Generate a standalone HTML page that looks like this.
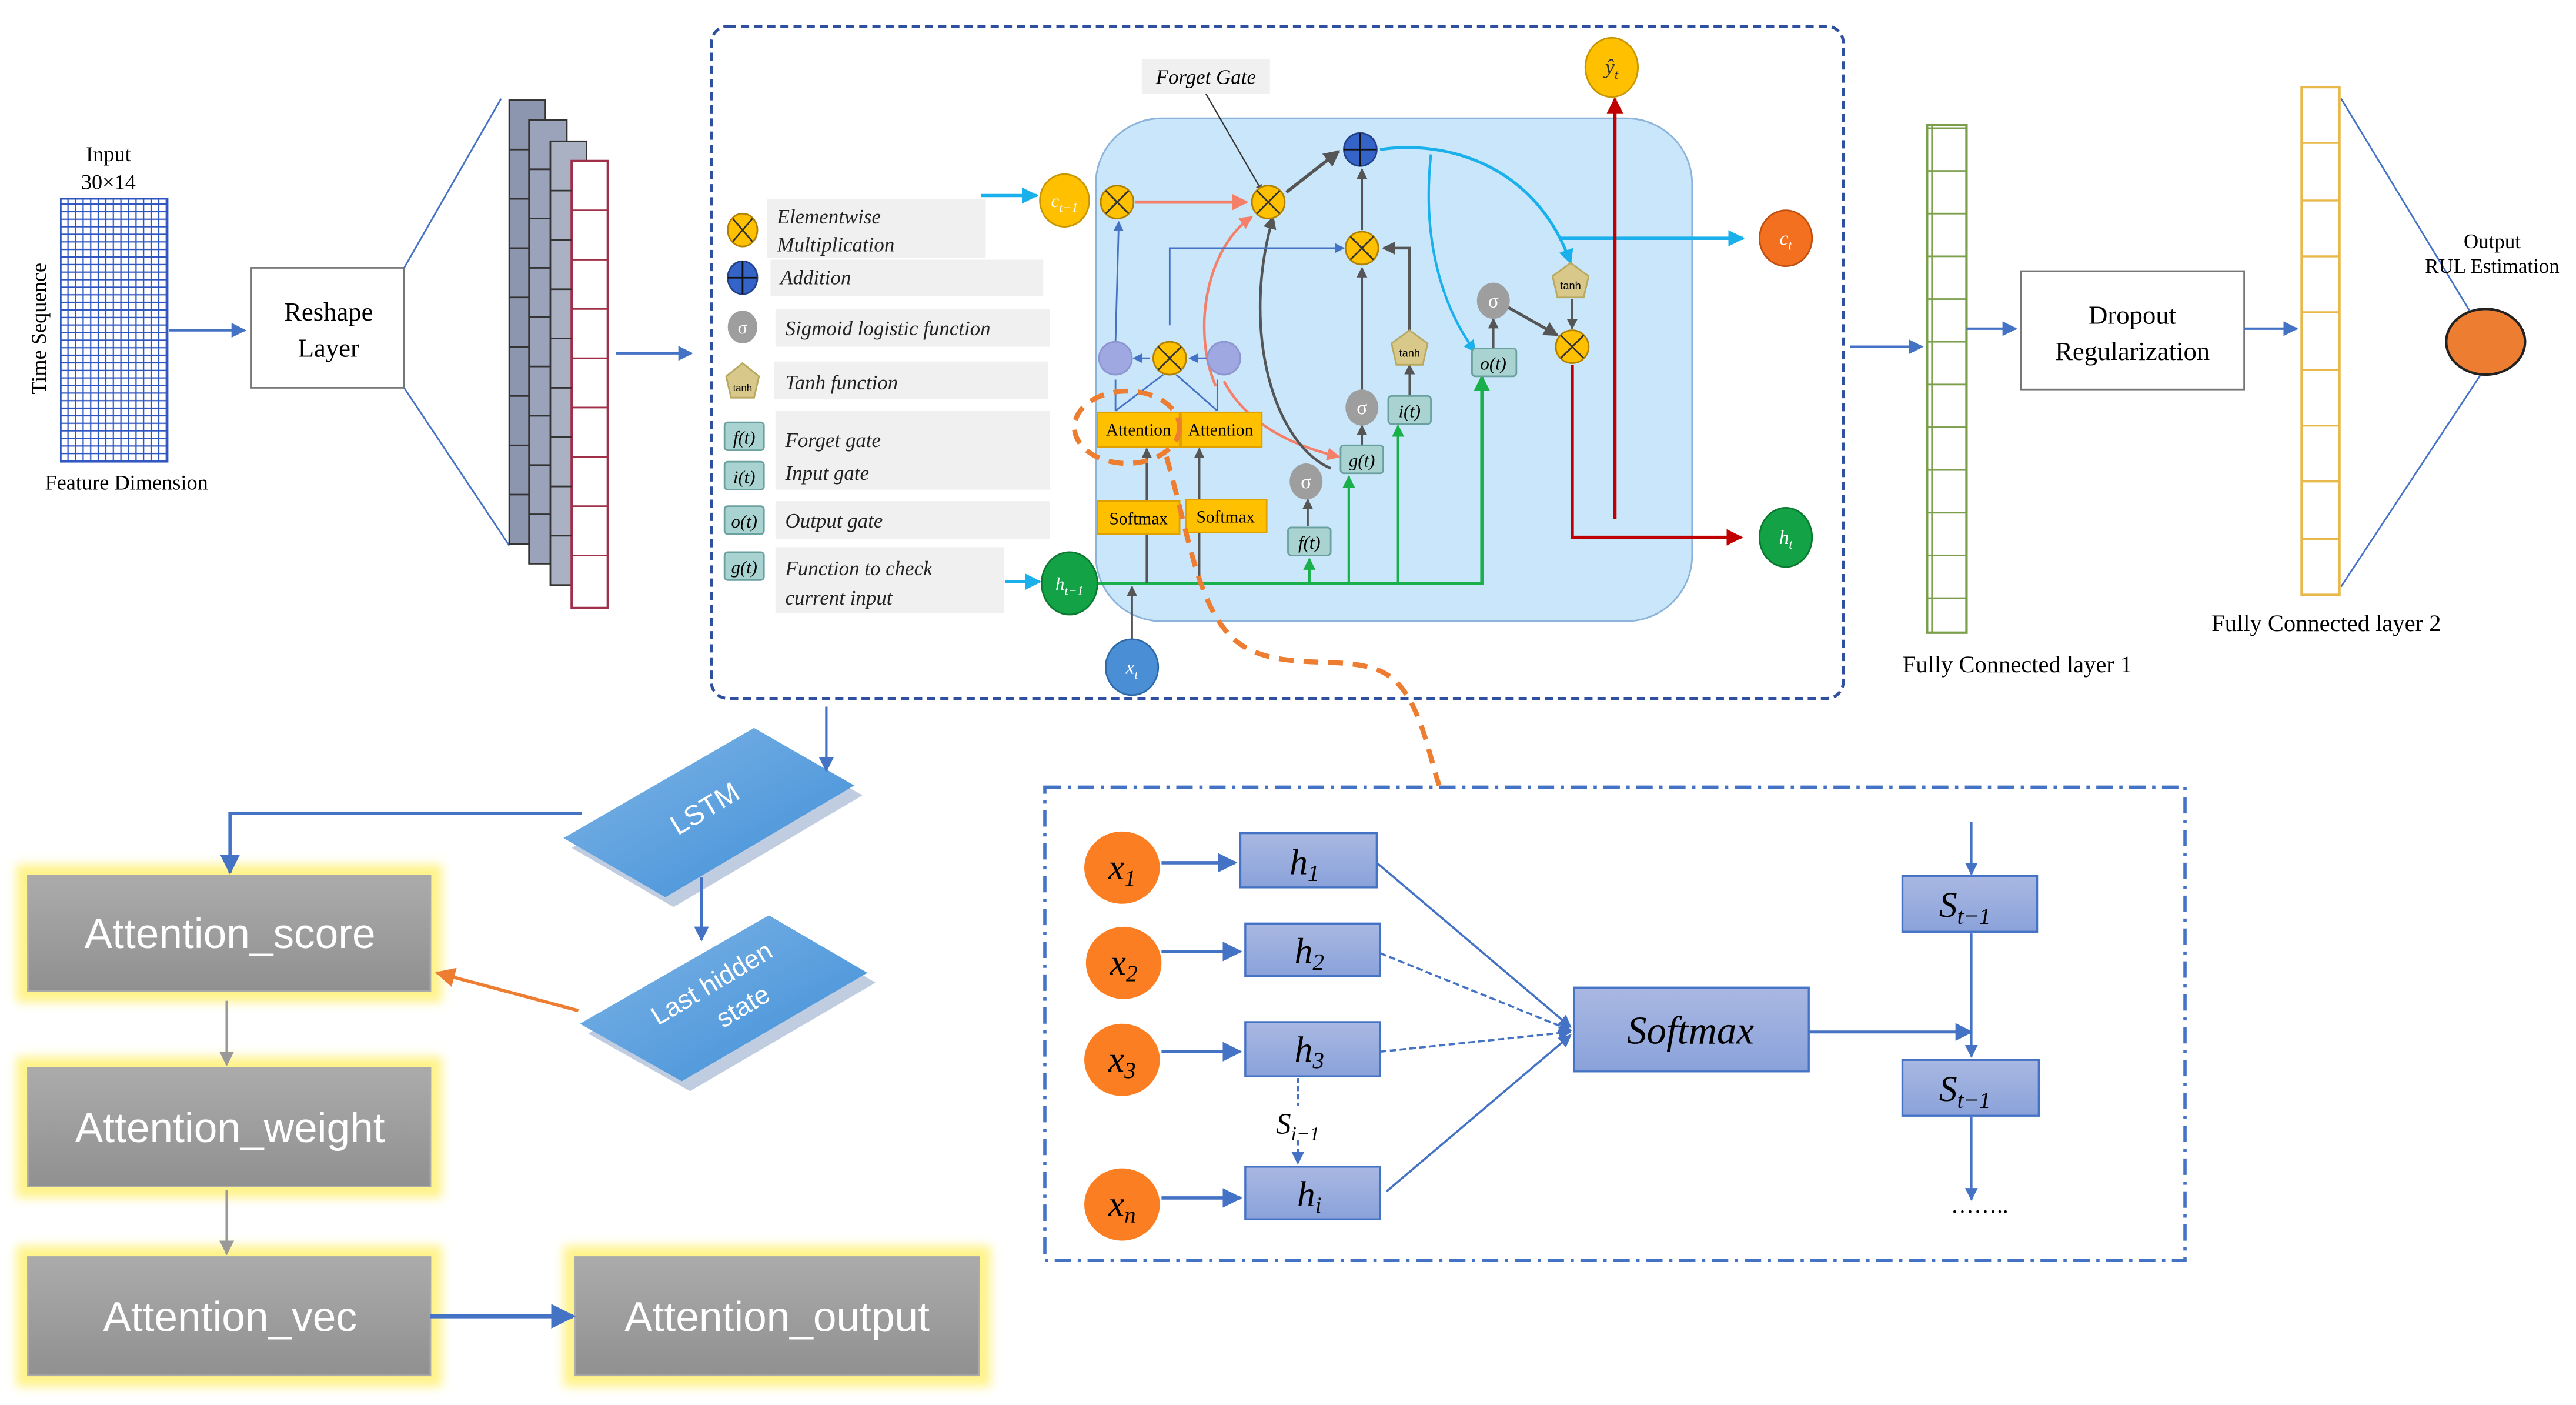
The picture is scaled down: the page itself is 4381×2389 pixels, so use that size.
<!DOCTYPE html>
<html><head><meta charset="utf-8"><style>
html,body{margin:0;padding:0;background:#fff;}
svg{display:block;}
.serif{font-family:"Liberation Serif",serif;}
.it{font-family:"Liberation Serif",serif;font-style:italic;}
.sans{font-family:"Liberation Sans",sans-serif;}
</style></head><body>
<svg width="4381" height="2389" viewBox="0 0 1568 855" preserveAspectRatio="none" xmlns="http://www.w3.org/2000/svg">
<defs>
<marker id="ab" viewBox="0 0 10 10" refX="9" refY="5" markerWidth="6" markerHeight="6" orient="auto"><path d="M0,0L10,5L0,10z" fill="#4472c4"/></marker>
<marker id="ac" viewBox="0 0 10 10" refX="9" refY="5" markerWidth="5" markerHeight="5" orient="auto"><path d="M0,0L10,5L0,10z" fill="#1ab0ec"/></marker>
<marker id="ag" viewBox="0 0 10 10" refX="9" refY="5" markerWidth="5" markerHeight="5" orient="auto"><path d="M0,0L10,5L0,10z" fill="#19b04b"/></marker>
<marker id="ak" viewBox="0 0 10 10" refX="9" refY="5" markerWidth="5" markerHeight="5" orient="auto"><path d="M0,0L10,5L0,10z" fill="#555"/></marker>
<marker id="ar" viewBox="0 0 10 10" refX="9" refY="5" markerWidth="5" markerHeight="5" orient="auto"><path d="M0,0L10,5L0,10z" fill="#c00000"/></marker>
<marker id="as" viewBox="0 0 10 10" refX="9" refY="5" markerWidth="5" markerHeight="5" orient="auto"><path d="M0,0L10,5L0,10z" fill="#f4806a"/></marker>
<marker id="ao" viewBox="0 0 10 10" refX="9" refY="5" markerWidth="6" markerHeight="6" orient="auto"><path d="M0,0L10,5L0,10z" fill="#ed7d31"/></marker>
<marker id="agr" viewBox="0 0 10 10" refX="9" refY="5" markerWidth="6" markerHeight="6" orient="auto"><path d="M0,0L10,5L0,10z" fill="#999"/></marker>
<linearGradient id="gg" x1="0" y1="0" x2="0" y2="1"><stop offset="0" stop-color="#ababab"/><stop offset="1" stop-color="#909090"/></linearGradient>
<linearGradient id="bg" x1="0" y1="0" x2="1" y2="1"><stop offset="0" stop-color="#7fb4e6"/><stop offset="1" stop-color="#3f8fd8"/></linearGradient>
<linearGradient id="hb" x1="0" y1="0" x2="0" y2="1"><stop offset="0" stop-color="#a9b8e2"/><stop offset="1" stop-color="#8aa2da"/></linearGradient>
<filter id="glow" x="-10%" y="-20%" width="120%" height="140%"><feGaussianBlur stdDeviation="3"/></filter>
<pattern id="grid" width="4.6" height="4.6" patternUnits="userSpaceOnUse"><rect width="4.6" height="4.6" fill="#fff" stroke="#2f55c0" stroke-width="0.8"/></pattern>
<pattern id="cells" width="24" height="26" patternUnits="userSpaceOnUse"><rect width="24" height="26" fill="none" stroke="#7a9e4a" stroke-width="1"/></pattern>
</defs>

<text x="66" y="98" class="serif" font-size="13" text-anchor="middle">Input</text>
<text x="66" y="115" class="serif" font-size="13" text-anchor="middle">30×14</text>
<rect x="37" y="121" width="65" height="160" fill="url(#grid)" stroke="#2f55c0"/>
<text transform="translate(28,200) rotate(-90)" class="serif" font-size="13" text-anchor="middle">Time Sequence</text>
<text x="77" y="298" class="serif" font-size="13" text-anchor="middle">Feature Dimension</text>
<line x1="103" y1="201" x2="149" y2="201" stroke="#4472c4" stroke-width="1.5" marker-end="url(#ab)"/>
<rect x="153" y="163" width="93" height="73" fill="#fff" stroke="#777"/>
<text x="200" y="195" class="serif" font-size="16" text-anchor="middle">Reshape</text>
<text x="200" y="217" class="serif" font-size="16" text-anchor="middle">Layer</text>
<line x1="246" y1="163" x2="305" y2="60" stroke="#4472c4"/>
<line x1="246" y1="236" x2="310" y2="332" stroke="#4472c4"/>
<g stroke="#333" stroke-width="1">
<rect x="310" y="61" width="22" height="270" fill="#8c96ae"/>
<rect x="322" y="73" width="23" height="270" fill="#9aa3b9"/>
<rect x="335" y="86" width="22" height="270" fill="#aab1c3"/>
</g>
<rect x="348" y="98" width="22" height="272" fill="#fff" stroke="#a0304a" stroke-width="1.5"/>
<g stroke="#a0304a" stroke-width="1">
<line x1="348" y1="128" x2="370" y2="128"/><line x1="348" y1="158" x2="370" y2="158"/><line x1="348" y1="188" x2="370" y2="188"/><line x1="348" y1="218" x2="370" y2="218"/><line x1="348" y1="248" x2="370" y2="248"/><line x1="348" y1="278" x2="370" y2="278"/><line x1="348" y1="308" x2="370" y2="308"/><line x1="348" y1="338" x2="370" y2="338"/>
</g>
<g stroke="#333" stroke-width="1">
<line x1="310" y1="91" x2="322" y2="91"/><line x1="310" y1="121" x2="322" y2="121"/><line x1="310" y1="151" x2="322" y2="151"/><line x1="310" y1="181" x2="322" y2="181"/><line x1="310" y1="211" x2="322" y2="211"/><line x1="310" y1="241" x2="322" y2="241"/><line x1="310" y1="271" x2="322" y2="271"/><line x1="310" y1="301" x2="322" y2="301"/>
<line x1="322" y1="103" x2="335" y2="103"/><line x1="322" y1="133" x2="335" y2="133"/><line x1="322" y1="163" x2="335" y2="163"/><line x1="322" y1="193" x2="335" y2="193"/><line x1="322" y1="223" x2="335" y2="223"/><line x1="322" y1="253" x2="335" y2="253"/><line x1="322" y1="283" x2="335" y2="283"/><line x1="322" y1="313" x2="335" y2="313"/>
<line x1="335" y1="116" x2="348" y2="116"/><line x1="335" y1="146" x2="348" y2="146"/><line x1="335" y1="176" x2="348" y2="176"/><line x1="335" y1="206" x2="348" y2="206"/><line x1="335" y1="236" x2="348" y2="236"/><line x1="335" y1="266" x2="348" y2="266"/><line x1="335" y1="296" x2="348" y2="296"/><line x1="335" y1="326" x2="348" y2="326"/>
</g>
<line x1="375" y1="215" x2="421" y2="215" stroke="#4472c4" stroke-width="1.5" marker-end="url(#ab)"/>

<rect x="433" y="16" width="689" height="409" rx="10" fill="none" stroke="#2f4f9f" stroke-width="1.8" stroke-dasharray="5,3"/>
<rect x="667" y="72" width="363" height="306" rx="40" fill="#c9e6fa" stroke="#8cb3d9"/>

<g fill="#f0f0f0">
<rect x="467" y="121" width="133" height="36"/><rect x="469" y="158" width="166" height="22"/>
<rect x="472" y="188" width="167" height="23"/><rect x="471" y="220" width="167" height="23"/>
<rect x="472" y="250" width="167" height="48"/><rect x="472" y="305" width="167" height="23"/>
<rect x="472" y="333" width="139" height="40"/>
</g>
<g class="it" font-size="12.5" fill="#222">
<text x="473" y="136">Elementwise</text><text x="473" y="153">Multiplication</text>
<text x="475" y="173">Addition</text>
<text x="478" y="204">Sigmoid logistic function</text>
<text x="478" y="237">Tanh function</text>
<text x="478" y="272">Forget gate</text>
<text x="478" y="292">Input gate</text>
<text x="478" y="321">Output gate</text>
<text x="478" y="350">Function to check</text>
<text x="478" y="368">current input</text>
</g>
<g>
<ellipse cx="452" cy="140" rx="9" ry="10" fill="#ffc000" stroke="#b08000"/>
<path d="M446,133L458,147M458,133L446,147" stroke="#333" stroke-width="1"/>
<ellipse cx="452" cy="169" rx="9" ry="10" fill="#3564c8" stroke="#23408a"/>
<path d="M443,169H461M452,159V179" stroke="#111" stroke-width="1"/>
<ellipse cx="452" cy="199" rx="9" ry="10" fill="#9e9e9e"/>
<text x="452" y="203" class="serif" font-size="11" fill="#fff" text-anchor="middle">σ</text>
<polygon points="452,221 462,229 459,242 445,242 442,229" fill="#d8c88a" stroke="#b8a860"/>
<text x="452" y="238" class="sans" font-size="6" text-anchor="middle">tanh</text>
<g fill="#a9d3d0" stroke="#6aa0a0"><rect x="441" y="257" width="24" height="17" rx="2"/><rect x="441" y="281" width="24" height="17" rx="2"/><rect x="441" y="308" width="24" height="17" rx="2"/><rect x="441" y="336" width="24" height="17" rx="2"/></g>
<g class="it" font-size="11" text-anchor="middle"><text x="453" y="270">f(t)</text><text x="453" y="294">i(t)</text><text x="453" y="321">o(t)</text><text x="453" y="349">g(t)</text></g>
</g>

<rect x="695" y="36" width="78" height="21" fill="#f0f0f0"/>
<text x="734" y="51" class="it" font-size="12.5" text-anchor="middle">Forget Gate</text>
<line x1="734" y1="57" x2="768" y2="116" stroke="#333" stroke-width="0.8" marker-end="url(#ak)"/>

<line x1="597" y1="119" x2="631" y2="119" stroke="#1ab0ec" stroke-width="2" marker-end="url(#ac)"/>
<line x1="612" y1="354" x2="633" y2="354" stroke="#1ab0ec" stroke-width="2" marker-end="url(#ac)"/>
<line x1="691" y1="123" x2="759" y2="123" stroke="#f4806a" stroke-width="2" marker-end="url(#as)"/>
<path d="M740,235 C725,200 735,150 762,132" fill="none" stroke="#f4806a" stroke-width="1.6" marker-end="url(#as)"/>
<path d="M745,232 C760,260 790,272 815,278" fill="none" stroke="#f4806a" stroke-width="1.6" marker-end="url(#as)"/>
<path d="M783,117 L815,92" stroke="#555" stroke-width="2" marker-end="url(#ak)"/>
<path d="M810,285 C775,270 755,200 775,132" fill="none" stroke="#555" stroke-width="1.6" marker-end="url(#ak)"/>
<line x1="829" y1="140" x2="829" y2="103" stroke="#555" stroke-width="1.3" marker-end="url(#ak)"/>
<line x1="829" y1="240" x2="829" y2="163" stroke="#555" stroke-width="1.3" marker-end="url(#ak)"/>
<line x1="829" y1="271" x2="829" y2="259" stroke="#555" stroke-width="1.3" marker-end="url(#ak)"/>
<path d="M858,203 V151 H842" fill="none" stroke="#555" stroke-width="1.6" marker-end="url(#ak)"/>
<line x1="858" y1="241" x2="858" y2="222" stroke="#555" stroke-width="1.3" marker-end="url(#ak)"/>
<line x1="796" y1="320" x2="796" y2="304" stroke="#555" stroke-width="1.3" marker-end="url(#ak)"/>
<line x1="909" y1="212" x2="909" y2="194" stroke="#555" stroke-width="1.3" marker-end="url(#ak)"/>
<path d="M918,187 L948,204" stroke="#555" stroke-width="1.8" marker-end="url(#ak)"/>
<line x1="957" y1="182" x2="957" y2="200" stroke="#555" stroke-width="1.3" marker-end="url(#ak)"/>
<path d="M840,91 C880,85 935,100 956,160" fill="none" stroke="#1ab0ec" stroke-width="1.8" marker-end="url(#ac)"/>
<path d="M871,94 C865,150 880,190 898,214" fill="none" stroke="#1ab0ec" stroke-width="1.5" marker-end="url(#ac)"/>
<line x1="950" y1="145" x2="1061" y2="145" stroke="#1ab0ec" stroke-width="2" marker-end="url(#ac)"/>
<path d="M712,198 V151 H818" fill="none" stroke="#4472c4" stroke-width="1" marker-end="url(#ab)"/>
<line x1="679" y1="208" x2="681" y2="135" stroke="#4472c4" stroke-width="1" marker-end="url(#ab)"/>
<line x1="700" y1="218" x2="690" y2="218" stroke="#4472c4" stroke-width="1" marker-end="url(#ab)"/>
<line x1="735" y1="218" x2="724" y2="218" stroke="#4472c4" stroke-width="1" marker-end="url(#ab)"/>
<path d="M679,250 V231 M679,250 L708,228 M741,250 L716,228 M741,250 V231" fill="none" stroke="#4472c4" stroke-width="1"/>
<path d="M957,222 V327 H1060" fill="none" stroke="#c00000" stroke-width="2" marker-end="url(#ar)"/>
<line x1="983" y1="316" x2="983" y2="60" stroke="#c00000" stroke-width="2" marker-end="url(#ar)"/>
<path d="M666,355 H902 V229" fill="none" stroke="#19b04b" stroke-width="2" marker-end="url(#ag)"/>
<line x1="797" y1="355" x2="797" y2="340" stroke="#19b04b" stroke-width="1.5" marker-end="url(#ag)"/>
<line x1="821" y1="355" x2="821" y2="290" stroke="#19b04b" stroke-width="1.5" marker-end="url(#ag)"/>
<line x1="851" y1="355" x2="851" y2="259" stroke="#19b04b" stroke-width="1.5" marker-end="url(#ag)"/>
<line x1="689" y1="393" x2="689" y2="357" stroke="#555" stroke-width="1.3" marker-end="url(#ak)"/>
<line x1="698" y1="355" x2="698" y2="273" stroke="#555" stroke-width="1.3" marker-end="url(#ak)"/>
<line x1="730" y1="355" x2="730" y2="273" stroke="#555" stroke-width="1.3" marker-end="url(#ak)"/>

<ellipse cx="648" cy="122" rx="15" ry="16" fill="#ffc000" stroke="#c89600"/>
<text x="648" y="126" class="it" font-size="11" fill="#fff" text-anchor="middle">c<tspan font-size="8" dy="3">t−1</tspan></text>
<ellipse cx="651" cy="355" rx="17" ry="19" fill="#13a246" stroke="#0b7a30"/>
<text x="651" y="359" class="it" font-size="11" fill="#fff" text-anchor="middle">h<tspan font-size="8" dy="3">t−1</tspan></text>
<ellipse cx="689" cy="406" rx="16" ry="17" fill="#4a8ed6" stroke="#2f6aa8"/>
<text x="689" y="410" class="it" font-size="12" fill="#fff" text-anchor="middle">x<tspan font-size="8" dy="3">t</tspan></text>
<ellipse cx="981" cy="41" rx="16" ry="18" fill="#ffc000" stroke="#c89600"/>
<text x="981" y="45" class="it" font-size="13" fill="#333" text-anchor="middle">ŷ<tspan font-size="8" dy="3">t</tspan></text>
<ellipse cx="1087" cy="145" rx="16" ry="17" fill="#f37021" stroke="#c05010"/>
<text x="1087" y="149" class="it" font-size="12" fill="#fff" text-anchor="middle">c<tspan font-size="8" dy="3">t</tspan></text>
<ellipse cx="1087" cy="327" rx="16" ry="18" fill="#13a246" stroke="#0b7a30"/>
<text x="1087" y="331" class="it" font-size="12" fill="#fff" text-anchor="middle">h<tspan font-size="8" dy="3">t</tspan></text>

<g fill="#ffc000" stroke="#b08000">
<circle cx="680" cy="123" r="10"/><circle cx="772" cy="123" r="10"/><circle cx="829" cy="151" r="10"/><circle cx="957" cy="211" r="10"/><circle cx="712" cy="218" r="10"/>
</g>
<path d="M673,116L687,130M687,116L673,130 M765,116L779,130M779,116L765,130 M822,144L836,158M836,144L822,158 M950,204L964,218M964,204L950,218 M705,211L719,225M719,211L705,225" stroke="#333" stroke-width="1"/>
<circle cx="828" cy="91" r="10" fill="#3564c8" stroke="#23408a"/>
<path d="M818,91H838M828,81V101" stroke="#111"/>
<circle cx="679" cy="218" r="10" fill="#9fa8e0" stroke="#8c95d0"/>
<circle cx="745" cy="218" r="10" fill="#9fa8e0" stroke="#8c95d0"/>
<g fill="#9e9e9e"><ellipse cx="829" cy="248" rx="10" ry="11"/><ellipse cx="795" cy="293" rx="10" ry="11"/><ellipse cx="909" cy="183" rx="10" ry="11"/></g>
<g class="serif" font-size="12" fill="#fff" text-anchor="middle"><text x="829" y="252">σ</text><text x="795" y="297">σ</text><text x="909" y="187">σ</text></g>
<polygon points="858,201 869,209 866,222 850,222 847,209" fill="#d8c88a" stroke="#b8a860"/>
<polygon points="956,160 967,168 964,181 948,181 945,168" fill="#d8c88a" stroke="#b8a860"/>
<g class="sans" font-size="6.5" text-anchor="middle"><text x="858" y="217">tanh</text><text x="956" y="176">tanh</text></g>
<g fill="#a9d3d0" stroke="#6aa0a0">
<rect x="816" y="271" width="26" height="17" rx="2"/><rect x="845" y="241" width="26" height="17" rx="2"/><rect x="784" y="321" width="26" height="17" rx="2"/><rect x="896" y="212" width="27" height="17" rx="2"/>
</g>
<g class="it" font-size="11" text-anchor="middle"><text x="829" y="284">g(t)</text><text x="858" y="254">i(t)</text><text x="797" y="334">f(t)</text><text x="909" y="225">o(t)</text></g>
<g fill="#ffc000" stroke="#e0a000">
<rect x="668" y="251" width="50" height="21"/><rect x="719" y="251" width="49" height="21"/>
<rect x="668" y="305" width="50" height="20"/><rect x="722" y="304" width="49" height="20"/>
</g>
<g class="serif" font-size="10.5" text-anchor="middle"><text x="693" y="265">Attention</text><text x="743" y="265">Attention</text><text x="693" y="319">Softmax</text><text x="746" y="318">Softmax</text></g>
<ellipse cx="686" cy="260" rx="32" ry="22" fill="none" stroke="#ed7d31" stroke-width="3" stroke-dasharray="9,6"/>
<path d="M710,278 C725,330 730,380 760,395 C790,410 830,395 850,415 C865,430 870,460 876,478" fill="none" stroke="#ed7d31" stroke-width="3" stroke-dasharray="9,6"/>

<line x1="1126" y1="211" x2="1170" y2="211" stroke="#4472c4" stroke-width="1.5" marker-end="url(#ab)"/>
<rect x="1173" y="76" width="24" height="309" fill="url(#cells)" stroke="#7a9e4a" stroke-width="1.5"/>
<text x="1228" y="409" class="serif" font-size="14.5" text-anchor="middle">Fully Connected layer 1</text>
<line x1="1197" y1="200" x2="1227" y2="200" stroke="#4472c4" stroke-width="1.5" marker-end="url(#ab)"/>
<rect x="1230" y="165" width="136" height="72" fill="#fff" stroke="#777"/>
<text x="1298" y="197" class="serif" font-size="16" text-anchor="middle">Dropout</text>
<text x="1298" y="219" class="serif" font-size="16" text-anchor="middle">Regularization</text>
<line x1="1366" y1="200" x2="1398" y2="200" stroke="#4472c4" stroke-width="1.5" marker-end="url(#ab)"/>
<rect x="1401" y="53" width="23" height="309" fill="#fff" stroke="#e8b84a" stroke-width="1.5"/>
<g stroke="#e8b84a" stroke-width="1.2">
<line x1="1401" y1="87" x2="1424" y2="87"/><line x1="1401" y1="122" x2="1424" y2="122"/><line x1="1401" y1="156" x2="1424" y2="156"/><line x1="1401" y1="190" x2="1424" y2="190"/><line x1="1401" y1="225" x2="1424" y2="225"/><line x1="1401" y1="259" x2="1424" y2="259"/><line x1="1401" y1="293" x2="1424" y2="293"/><line x1="1401" y1="328" x2="1424" y2="328"/>
</g>
<text x="1416" y="384" class="serif" font-size="14.5" text-anchor="middle">Fully Connected layer 2</text>
<line x1="1425" y1="60" x2="1505" y2="192" stroke="#4472c4"/>
<line x1="1425" y1="357" x2="1510" y2="228" stroke="#4472c4"/>
<ellipse cx="1513" cy="208" rx="24" ry="20" fill="#ed7d31" stroke="#222" stroke-width="1.5"/>
<text x="1517" y="151" class="serif" font-size="12.5" text-anchor="middle">Output</text>
<text x="1517" y="166" class="serif" font-size="12.5" text-anchor="middle">RUL Estimation</text>

<g filter="url(#glow)" fill="#fff38a">
<rect x="10" y="526" width="259" height="84"/><rect x="10" y="643" width="259" height="86"/><rect x="10" y="758" width="259" height="86"/><rect x="343" y="758" width="260" height="86"/>
</g>
<g fill="url(#gg)" stroke="#aaa">
<rect x="17" y="533" width="245" height="70"/><rect x="17" y="650" width="245" height="72"/><rect x="17" y="765" width="245" height="72"/><rect x="350" y="765" width="246" height="72"/>
</g>
<g class="sans" font-size="25.5" fill="#fff" text-anchor="middle">
<text x="140" y="577">Attention_score</text><text x="140" y="695">Attention_weight</text><text x="140" y="810">Attention_vec</text><text x="473" y="810">Attention_output</text>
</g>
<line x1="138" y1="609" x2="138" y2="648" stroke="#999" stroke-width="1.5" marker-end="url(#agr)"/>
<line x1="138" y1="724" x2="138" y2="763" stroke="#999" stroke-width="1.5" marker-end="url(#agr)"/>
<line x1="262" y1="801" x2="349" y2="801" stroke="#4472c4" stroke-width="2.5" marker-end="url(#ab)"/>
<polygon points="461,445 522,480 407,548 345,512" fill="#4a6fa5" opacity="0.35" transform="translate(3,4)"/>
<polygon points="459,443 520,478 405,546 343,510" fill="url(#bg)"/>
<text transform="translate(432,497) rotate(-31)" class="sans" font-size="17" fill="#fff" text-anchor="middle">LSTM</text>
<polygon points="470,559 530,594 417,660 355,625" fill="#4a6fa5" opacity="0.35" transform="translate(3,4)"/>
<polygon points="468,557 528,592 415,658 353,623" fill="url(#bg)"/>
<text transform="translate(436,603) rotate(-31)" class="sans" font-size="16" fill="#fff" text-anchor="middle">Last hidden</text>
<text transform="translate(455,617) rotate(-31)" class="sans" font-size="16" fill="#fff" text-anchor="middle">state</text>
<path d="M354,495 H140 V531" fill="none" stroke="#4472c4" stroke-width="2" marker-end="url(#ab)"/>
<line x1="503" y1="430" x2="503" y2="469" stroke="#4472c4" stroke-width="1.5" marker-end="url(#ab)"/>
<line x1="427" y1="534" x2="427" y2="572" stroke="#4472c4" stroke-width="1.5" marker-end="url(#ab)"/>
<line x1="352" y1="615" x2="266" y2="592" stroke="#ed7d31" stroke-width="2" marker-end="url(#ao)"/>

<rect x="636" y="479" width="694" height="288" fill="none" stroke="#4472c4" stroke-width="2" stroke-dasharray="10,4,2,4"/>
<g fill="#fb7f22">
<ellipse cx="683" cy="528" rx="23" ry="22"/><ellipse cx="684" cy="586" rx="23" ry="22"/><ellipse cx="683" cy="645" rx="23" ry="22"/><ellipse cx="683" cy="733" rx="23" ry="22"/>
</g>
<g class="it" font-size="22" text-anchor="middle">
<text x="683" y="535">x<tspan font-size="14" dy="4">1</tspan></text><text x="684" y="593">x<tspan font-size="14" dy="4">2</tspan></text><text x="683" y="652">x<tspan font-size="14" dy="4">3</tspan></text><text x="683" y="740">x<tspan font-size="14" dy="4">n</tspan></text>
</g>
<g stroke="#4472c4" stroke-width="2">
<line x1="707" y1="525" x2="752" y2="525" marker-end="url(#ab)"/><line x1="707" y1="579" x2="755" y2="579" marker-end="url(#ab)"/><line x1="707" y1="640" x2="755" y2="640" marker-end="url(#ab)"/><line x1="707" y1="729" x2="755" y2="729" marker-end="url(#ab)"/>
</g>
<g fill="url(#hb)" stroke="#4472c4" stroke-width="1.2">
<rect x="755" y="507" width="83" height="33"/><rect x="758" y="562" width="82" height="32"/><rect x="758" y="622" width="82" height="33"/><rect x="758" y="710" width="82" height="32"/>
<rect x="958" y="601" width="143" height="51"/><rect x="1158" y="533" width="82" height="34"/><rect x="1158" y="645" width="83" height="34"/>
</g>
<g class="it" font-size="22" text-anchor="middle">
<text x="794" y="532">h<tspan font-size="14" dy="4">1</tspan></text><text x="797" y="586">h<tspan font-size="14" dy="4">2</tspan></text><text x="797" y="646">h<tspan font-size="14" dy="4">3</tspan></text><text x="797" y="734">h<tspan font-size="14" dy="4">i</tspan></text>
<text x="1029" y="635" font-size="24">Softmax</text>
<text x="1196" y="558">S<tspan font-size="14" dy="4">t−1</tspan></text><text x="1196" y="670">S<tspan font-size="14" dy="4">t−1</tspan></text>
<text x="790" y="690" font-size="18">S<tspan font-size="12" dy="4">i−1</tspan></text>
</g>
<g stroke="#4472c4" stroke-width="1.3">
<line x1="838" y1="525" x2="956" y2="625" marker-end="url(#ab)"/>
<line x1="840" y1="580" x2="956" y2="627" stroke-dasharray="4,2" marker-end="url(#ab)"/>
<line x1="840" y1="640" x2="956" y2="628" stroke-dasharray="4,2" marker-end="url(#ab)"/>
<line x1="844" y1="725" x2="956" y2="630" marker-end="url(#ab)"/>
<line x1="1101" y1="628" x2="1200" y2="628" stroke-width="1.8" marker-end="url(#ab)"/>
<line x1="1200" y1="500" x2="1200" y2="532" marker-end="url(#ab)"/>
<line x1="1200" y1="568" x2="1200" y2="643" marker-end="url(#ab)"/>
<line x1="1200" y1="680" x2="1200" y2="730" marker-end="url(#ab)"/>
<line x1="790" y1="656" x2="790" y2="673" stroke-dasharray="3,2"/>
<line x1="790" y1="694" x2="790" y2="708" stroke-dasharray="3,2" marker-end="url(#ab)"/>
</g>
<text x="1205" y="738" class="serif" font-size="14" text-anchor="middle">……..</text>
</svg>
</body></html>
